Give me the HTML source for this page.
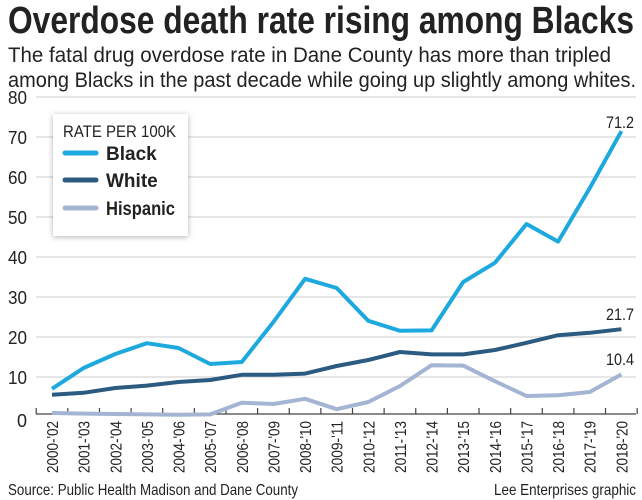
<!DOCTYPE html>
<html><head><meta charset="utf-8"><style>
html,body{margin:0;padding:0;background:#fff}
svg{display:block}
text{font-family:"Liberation Sans",sans-serif;fill:#222}
</style></head><body>
<svg width="642" height="500" viewBox="0 0 642 500" xmlns="http://www.w3.org/2000/svg">
<defs><filter id="sh" x="-20%" y="-20%" width="140%" height="140%"><feDropShadow dx="0" dy="1" stdDeviation="3" flood-color="#000" flood-opacity="0.3"/></filter></defs>
<text x="8" y="33" font-size="38" font-weight="bold" fill="#1a1a1a" textLength="626" lengthAdjust="spacingAndGlyphs">Overdose death rate rising among Blacks</text>
<text x="8" y="62" font-size="21" textLength="603" lengthAdjust="spacingAndGlyphs">The fatal drug overdose rate in Dane County has more than tripled</text>
<text x="8" y="87" font-size="21" textLength="628" lengthAdjust="spacingAndGlyphs">among Blacks in the past decade while going up slightly among whites.</text>
<g stroke="#d8d8d8" stroke-width="1.2">
<line x1="36" y1="97" x2="636" y2="97"/><line x1="36" y1="137" x2="636" y2="137"/><line x1="36" y1="177" x2="636" y2="177"/><line x1="36" y1="217" x2="636" y2="217"/><line x1="36" y1="257" x2="636" y2="257"/><line x1="36" y1="297" x2="636" y2="297"/><line x1="36" y1="337" x2="636" y2="337"/><line x1="36" y1="377" x2="636" y2="377"/>
</g>
<g font-size="18" text-anchor="end">
<text x="27" y="104" textLength="19" lengthAdjust="spacingAndGlyphs">80</text><text x="27" y="144" textLength="19" lengthAdjust="spacingAndGlyphs">70</text><text x="27" y="184" textLength="19" lengthAdjust="spacingAndGlyphs">60</text><text x="27" y="224" textLength="19" lengthAdjust="spacingAndGlyphs">50</text><text x="27" y="264" textLength="19" lengthAdjust="spacingAndGlyphs">40</text><text x="27" y="304" textLength="19" lengthAdjust="spacingAndGlyphs">30</text><text x="27" y="344" textLength="19" lengthAdjust="spacingAndGlyphs">20</text><text x="27" y="384" textLength="19" lengthAdjust="spacingAndGlyphs">10</text><text x="27" y="427">0</text>
</g>
<line x1="36" y1="414" x2="636" y2="414" stroke="#444" stroke-width="1.2"/>
<g stroke="#444" stroke-width="1.2" id="ticks"></g>
<polyline fill="none" stroke="#a3b5d3" stroke-width="4" stroke-linejoin="round" points="52,413 83.6,413.6 115.3,414 146.9,414.4 178.5,414.8 210.2,414.4 241.8,402.8 273.4,404 305.1,398.8 336.7,409.2 368.3,402 400,386 431.6,365.2 463.2,365.6 494.9,381.2 526.5,396 558.1,395.2 589.8,392 621.4,374.4"/>
<polyline fill="none" stroke="#2c5b82" stroke-width="4" stroke-linejoin="round" points="52,394.8 83.6,392.8 115.3,388 146.9,385.6 178.5,382 210.2,380 241.8,374.8 273.4,374.8 305.1,373.6 336.7,366 368.3,360 400,352 431.6,354.4 463.2,354.4 494.9,350 526.5,342.8 558.1,335.2 589.8,332.8 621.4,329.2"/>
<polyline fill="none" stroke="#1ea9de" stroke-width="4" stroke-linejoin="round" points="52,388.8 83.6,368 115.3,354 146.9,343.2 178.5,348 210.2,364 241.8,362 273.4,322 305.1,278.8 336.7,288 368.3,320.8 400,330.8 431.6,330.4 463.2,282 494.9,262.8 526.5,224 558.1,241.6 589.8,188 621.4,131.2"/>
<g font-size="17" text-anchor="end">
<text x="634" y="128" textLength="28" lengthAdjust="spacingAndGlyphs">71.2</text><text x="634" y="320" textLength="28" lengthAdjust="spacingAndGlyphs">21.7</text><text x="634" y="365" textLength="28" lengthAdjust="spacingAndGlyphs">10.4</text>
</g>
<g font-size="15" text-anchor="end" id="xl"></g>
<rect x="53" y="114" width="135" height="122" fill="#fff" filter="url(#sh)"/>
<text x="63" y="137" font-size="17" textLength="113" lengthAdjust="spacingAndGlyphs">RATE PER 100K</text>
<g stroke-width="5" stroke-linecap="round">
<line x1="65" y1="153" x2="96" y2="153" stroke="#1ea9de"/>
<line x1="65" y1="180" x2="96" y2="180" stroke="#2c5b82"/>
<line x1="65" y1="208" x2="96" y2="208" stroke="#a3b5d3"/>
</g>
<g font-size="19" font-weight="bold">
<text x="106" y="160">Black</text><text x="106" y="187">White</text><text x="106" y="215" textLength="69" lengthAdjust="spacingAndGlyphs">Hispanic</text>
</g>
<text x="8" y="495" font-size="16" textLength="290" lengthAdjust="spacingAndGlyphs">Source: Public Health Madison and Dane County</text>
<text x="636" y="495" font-size="16" text-anchor="end" textLength="142" lengthAdjust="spacingAndGlyphs">Lee Enterprises graphic</text>
<script>
var t=document.getElementById('ticks'),xl=document.getElementById('xl'),ns='http://www.w3.org/2000/svg';
for(var i=0;i<=19;i++){var x=36.2+31.63*i;var l=document.createElementNS(ns,'line');l.setAttribute('x1',x);l.setAttribute('x2',x);l.setAttribute('y1',408);l.setAttribute('y2',414);t.appendChild(l);}
for(var i=0;i<19;i++){var x=52+31.63*i+6;var y=2000+i;var s=y+"-'"+String((y+2)%100).padStart(2,'0');var e=document.createElementNS(ns,'text');e.setAttribute('transform','translate('+x+',421) rotate(-90)');e.setAttribute('textLength','52');e.setAttribute('lengthAdjust','spacingAndGlyphs');e.setAttribute('font-size','16');e.textContent=s;xl.appendChild(e);}
</script>
</svg>
</body></html>
